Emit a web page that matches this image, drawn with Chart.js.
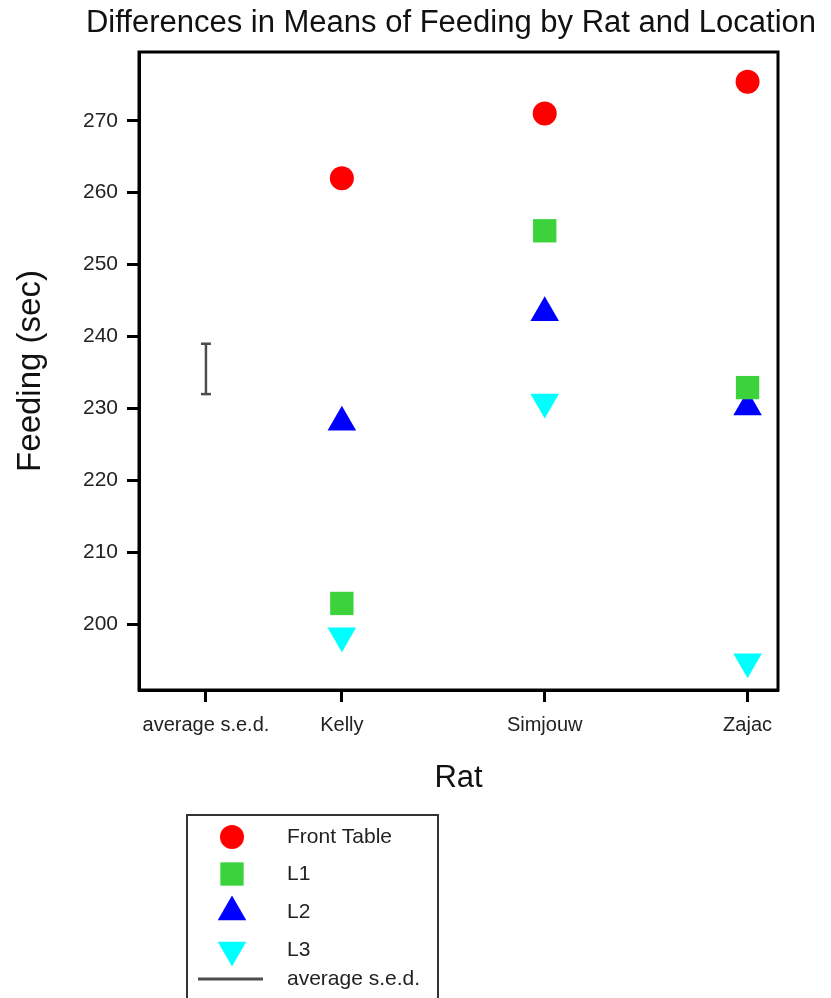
<!DOCTYPE html>
<html>
<head>
<meta charset="utf-8">
<script src="https://cdn.jsdelivr.net/npm/chart.js@4/dist/chart.umd.min.js"></script>
<style>
  html, body { margin: 0; padding: 0; background: #fff; }
  #chart { display: block; }
</style>
</head>
<body>
<canvas id="chart" width="831" height="998"></canvas>
<script>
// Rat feeding means by location
const rats = ['Kelly', 'Simjouw', 'Zajac'];
const ratPositions = [1, 2, 3];
const frontTable = [262.0, 271.0, 275.4];
const l1 = [202.9, 254.7, 232.9];
const l2 = [228.1, 243.3, 230.2];
const l3 = [198.4, 230.9, 194.8];

// average standard error of difference, drawn as a bar beside the rats
const sedPosition = 0.33;
const sedBar = [232, 239];

// axis ticks
const xTickValues = [0.33, 1, 2, 3];
const xTickLabels = ['average s.e.d.', 'Kelly', 'Simjouw', 'Zajac'];
const yTicks = [200, 210, 220, 230, 240, 250, 260, 270];

const chartTitle = 'Differences in Means of Feeding by Rat and Location';

const FONT = '"Liberation Sans", Arial, sans-serif';
const SED_COLOR = '#4d4d4d';

function points(values) {
  return values.map((v, i) => ({ x: ratPositions[i], y: v }));
}

// heading above the frame
const headingPlugin = {
  id: 'heading',
  afterDraw(chart) {
    const { ctx } = chart;
    ctx.save();
    ctx.font = '31px ' + FONT;
    ctx.fillStyle = '#111';
    ctx.textAlign = 'center';
    ctx.textBaseline = 'alphabetic';
    ctx.fillText(chartTitle, 451, 32);
    ctx.restore();
  }
};

// frame round the plotting area
const framePlugin = {
  id: 'frame',
  afterDatasetsDraw(chart) {
    const { ctx, chartArea: a } = chart;
    ctx.save();
    ctx.strokeStyle = '#000';
    ctx.lineWidth = 3;
    ctx.strokeRect(a.left, a.top, a.right - a.left, a.bottom - a.top);
    ctx.restore();
  }
};

// boxed legend under the x axis
const boxLegendPlugin = {
  id: 'boxLegend',
  afterDraw(chart) {
    const { ctx } = chart;
    const box = { left: 187, top: 815, right: 438, bottom: 1010 };
    const rowsY = [837, 874, 912, 950, 979];
    const markX = 232, textX = 287;
    ctx.save();
    ctx.strokeStyle = '#333';
    ctx.lineWidth = 2;
    ctx.strokeRect(box.left, box.top, box.right - box.left, box.bottom - box.top);
    ctx.font = '21px ' + FONT;
    ctx.textBaseline = 'middle';
    ctx.textAlign = 'left';
    chart.data.datasets.forEach((ds, i) => {
      const y = rowsY[i];
      if (ds.showLine) {
        ctx.strokeStyle = ds.borderColor;
        ctx.lineWidth = 3;
        ctx.beginPath();
        ctx.moveTo(198, y);
        ctx.lineTo(263, y);
        ctx.stroke();
      } else {
        ctx.fillStyle = ds.backgroundColor;
        Chart.helpers.drawPoint(ctx, {
          pointStyle: ds.pointStyle,
          rotation: ds.pointRotation || 0,
          radius: ds.pointRadius,
          borderWidth: 0
        }, markX, y);
      }
      ctx.fillStyle = '#222';
      ctx.fillText(ds.label, textX, y);
    });
    ctx.restore();
  }
};

new Chart(document.getElementById('chart'), {
  type: 'scatter',
  data: {
    datasets: [
      { label: 'Front Table', data: points(frontTable), pointStyle: 'circle', pointRadius: 12,
        backgroundColor: '#ff0000', pointBorderWidth: 0 },
      { label: 'L1', data: points(l1), pointStyle: 'rect', pointRadius: 16.5,
        backgroundColor: '#3cd23c', pointBorderWidth: 0 },
      { label: 'L2', data: points(l2), pointStyle: 'triangle', pointRadius: 16.5,
        backgroundColor: '#0000ff', pointBorderWidth: 0 },
      { label: 'L3', data: points(l3), pointStyle: 'triangle', pointRotation: 180, pointRadius: 16.5,
        backgroundColor: '#00ffff', pointBorderWidth: 0 },
      { label: 'average s.e.d.', data: sedBar.map(v => ({ x: sedPosition, y: v })),
        showLine: true, borderColor: SED_COLOR, borderWidth: 2.5, backgroundColor: SED_COLOR,
        pointStyle: 'line', pointRadius: 5, pointBorderWidth: 2.5, pointBorderColor: SED_COLOR }
    ]
  },
  options: {
    responsive: false,
    animation: false,
    events: [],
    layout: { padding: { top: 52, left: 0, right: 53, bottom: 198 } },
    plugins: {
      legend: { display: false },
      tooltip: { enabled: false },
      title: { display: false }
    },
    scales: {
      x: {
        type: 'linear',
        min: 0,
        max: 3.15,
        afterBuildTicks(scale) { scale.ticks = xTickValues.map(v => ({ value: v })); },
        afterFit(scale) { scale.height = 110; },
        ticks: {
          callback(value, index) { return xTickLabels[index]; },
          font: { family: FONT, size: 20 },
          color: '#222',
          padding: 11,
          maxRotation: 0,
          autoSkip: false
        },
        grid: { drawOnChartArea: false, drawTicks: true, tickLength: 12, tickWidth: 3, tickColor: '#000' },
        border: { display: true, color: '#000', width: 3 },
        title: {
          display: true, text: 'Rat', color: '#111',
          font: { family: FONT, size: 31 }, padding: { top: 0, bottom: 3 }
        }
      },
      y: {
        min: 190.87,
        max: 279.55,
        afterBuildTicks(scale) { scale.ticks = yTicks.map(v => ({ value: v })); },
        afterFit(scale) { scale.width = 139; },
        ticks: {
          font: { family: FONT, size: 21 },
          color: '#222',
          padding: 9
        },
        grid: { drawOnChartArea: false, drawTicks: true, tickLength: 12, tickWidth: 3, tickColor: '#000' },
        border: { display: true, color: '#000', width: 3 },
        title: {
          display: true, text: 'Feeding (sec)', color: '#111',
          font: { family: FONT, size: 33 }, padding: { top: 11, bottom: 0 }
        }
      }
    }
  },
  plugins: [framePlugin, boxLegendPlugin, headingPlugin]
});
</script>
</body>
</html>
